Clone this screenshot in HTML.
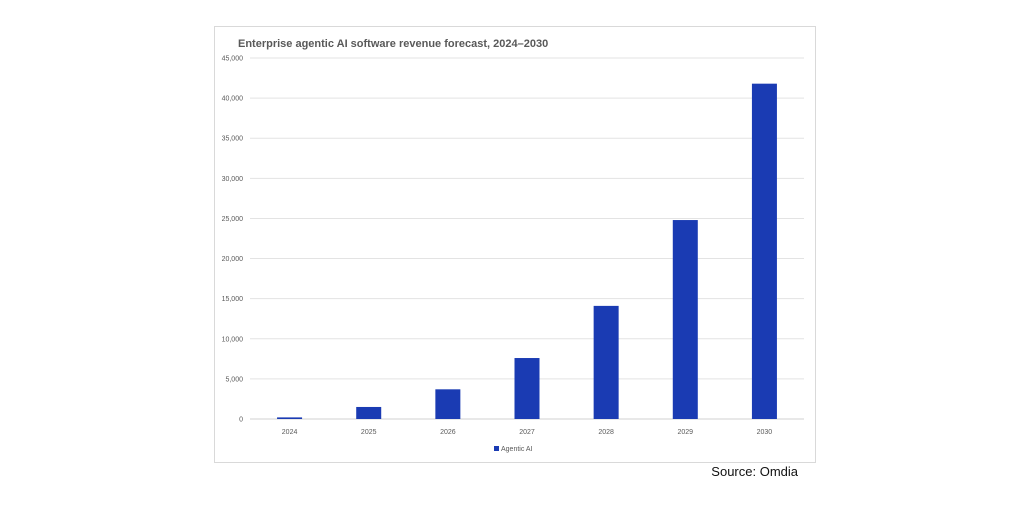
<!DOCTYPE html>
<html><head><meta charset="utf-8"><style>
html,body{margin:0;padding:0;background:#fff;}
body{width:1024px;height:512px;position:relative;overflow:hidden;font-family:"Liberation Sans",sans-serif;}
</style></head><body>
<svg width="1024" height="512">
<rect x="214.5" y="26.5" width="601" height="436" fill="#fff" stroke="#d9d9d9"/>
<text x="238" y="47" font-size="11" font-weight="bold" fill="#595959">Enterprise agentic AI software revenue forecast, 2024–2030</text>
<g id="grid"></g><g id="bars"></g><g id="xl"></g>
<rect x="494" y="446" width="5" height="5" fill="#1a3bb3"/>
<text x="501" y="451" font-size="7" fill="#595959">Agentic AI</text>
<text x="798" y="476" font-size="13" fill="#111" text-anchor="end">Source: Omdia</text>
</svg>
<script>
const categories=["2024","2025","2026","2027","2028","2029","2030"];
const values=[200,1500,3700,7600,14100,24800,41800];
const ticks=[0,5000,10000,15000,20000,25000,30000,35000,40000,45000];
const ns="http://www.w3.org/2000/svg";
const x0=250,x1=804,yb=419,yt=58,maxV=45000;
const y=v=>yb-(v/maxV)*(yb-yt);
const step=(x1-x0)/categories.length;
const xc=i=>x0+step*(i+0.5);
function mk(t,a,p){const e=document.createElementNS(ns,t);for(const k in a)e.setAttribute(k,a[k]);p.appendChild(e);return e;}
const g=document.getElementById('grid');
ticks.forEach(t=>{
 const l=mk('line',{x1:x0,x2:x1,y1:y(t),y2:y(t),stroke:t===0?'#d0d0d0':'#e3e3e3','stroke-width':1},g);
 
 
 const tx=mk('text',{x:243,y:y(t)+2.5,'font-size':7,fill:'#595959','text-anchor':'end'},g);
 tx.textContent=t.toLocaleString('en-US');
 
 
});
const b=document.getElementById('bars'),xl=document.getElementById('xl');
categories.forEach((c,i)=>{
 const r=mk('rect',{x:xc(i)-12.5,y:y(values[i]),width:25,height:yb-y(values[i]),fill:'#1a3bb3'},b);
 
 
 const t=mk('text',{x:xc(i),y:434,'font-size':7,fill:'#595959','text-anchor':'middle'},xl);
 t.textContent=c;
 
 
});
</script>
</body></html>
